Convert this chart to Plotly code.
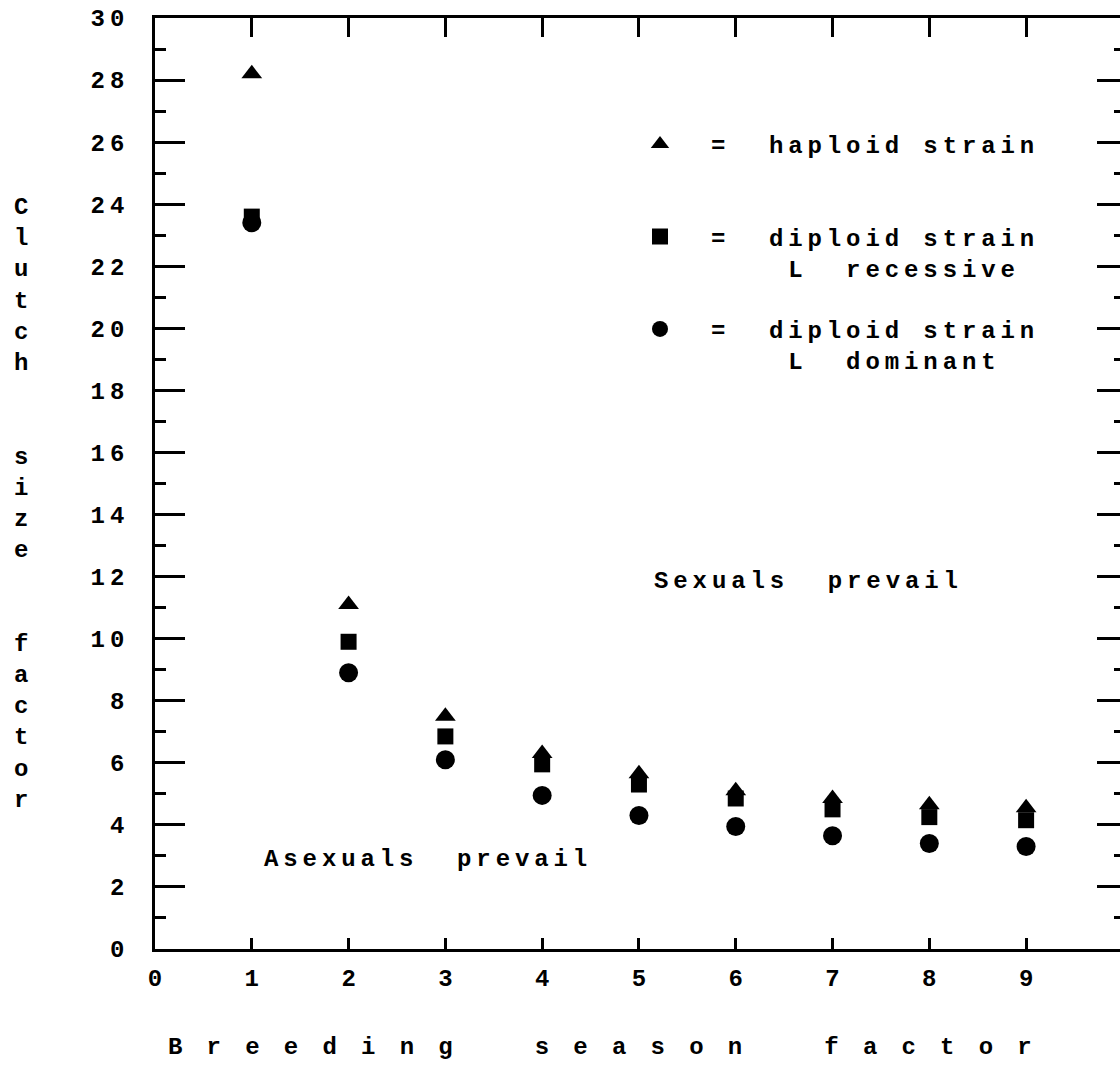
import plotly.graph_objects as go

# ---------------- data ----------------
season = [1, 2, 3, 4, 5, 6, 7, 8, 9]
haploid = [28.2, 11.1, 7.5, 6.3, 5.65, 5.1, 4.85, 4.65, 4.55]
diploid_recessive = [23.6, 9.9, 6.85, 5.95, 5.3, 4.85, 4.5, 4.25, 4.15]
diploid_dominant = [23.4, 8.9, 6.1, 4.95, 4.3, 3.95, 3.65, 3.4, 3.3]

x_tick_vals = [0, 1, 2, 3, 4, 5, 6, 7, 8, 9]
y_tick_vals = [0, 2, 4, 6, 8, 10, 12, 14, 16, 18, 20, 22, 24, 26, 28, 30]
top_tick_vals = [1, 2, 3, 4, 5, 6, 7, 8, 9, 10]

FONT = "Liberation Mono"
LS = 4.9
NB = "\u00a0"


def sp(t, ls=LS):
    return f'<span style="letter-spacing:{ls}px">{t}</span>'


name_hap = sp("=" + NB * 2 + "haploid strain") + "<br>" + NB
name_rec = sp("=" + NB * 2 + "diploid strain") + "<br>" + sp(NB * 4 + "L" + NB * 2 + "recessive")
name_dom = sp("=" + NB * 2 + "diploid strain") + "<br>" + sp(NB * 4 + "L" + NB * 2 + "dominant")

fig = go.Figure()
# haploid series is drawn on the twin (top/right) axes, which share identical ranges
fig.add_trace(go.Scatter(x=season, y=haploid, mode="markers", name=name_hap, legendgroup="a",
                         xaxis="x2", yaxis="y2",
                         marker=dict(symbol="triangle-up", size=18, color="black")))
fig.add_trace(go.Scatter(x=season, y=diploid_recessive, mode="markers", name=name_rec, legendgroup="b",
                         marker=dict(symbol="square", size=16, color="black")))
fig.add_trace(go.Scatter(x=season, y=diploid_dominant, mode="markers", name=name_dom, legendgroup="c",
                         marker=dict(symbol="circle", size=19, color="black")))

XR = [0, 9.97]
YR = [0, 30]

fig.update_layout(
    width=1120, height=1068,
    margin=dict(l=155, r=0, t=18, b=119),
    paper_bgcolor="white", plot_bgcolor="white",
    font=dict(family=FONT, size=24, color="black", weight="bold"),
    showlegend=True,
    legend=dict(x=(609 - 155) / 965, y=(949 - 122) / 931, xanchor="left", yanchor="top",
                bgcolor="rgba(0,0,0,0)", itemwidth=92, valign="top",
                traceorder="grouped", tracegroupgap=27,
                font=dict(family=FONT, size=24, color="black", weight="bold")),
    xaxis=dict(range=XR, showgrid=False, zeroline=False, showline=True, linecolor="black", linewidth=3,
               ticks="inside", ticklen=11, tickwidth=2.5, tickcolor="black",
               tickvals=x_tick_vals, ticktext=[str(v) for v in x_tick_vals],
               ticklabelstandoff=5),
    xaxis2=dict(range=XR, overlaying="x", side="top", anchor="y2", showgrid=False, zeroline=False,
                showline=True, linecolor="black", linewidth=3,
                ticks="inside", ticklen=19, tickwidth=2.5, tickcolor="black",
                tickvals=top_tick_vals, showticklabels=False),
    yaxis=dict(range=YR, showgrid=False, zeroline=False, showline=True, linecolor="black", linewidth=3,
               ticks="inside", ticklen=30, tickwidth=2.5, tickcolor="black",
               tickvals=y_tick_vals, ticktext=[sp(str(v)) for v in y_tick_vals],
               ticklabelstandoff=18,
               minor=dict(ticks="inside", ticklen=11, tickwidth=2.5, tickcolor="black", dtick=1, showgrid=False)),
    yaxis2=dict(range=YR, overlaying="y", side="right", anchor="x2", showgrid=False, zeroline=False,
                showline=False,
                ticks="inside", ticklen=23, tickwidth=2.5, tickcolor="black",
                tickvals=y_tick_vals, showticklabels=False,
                minor=dict(ticks="inside", ticklen=6, tickwidth=2.5, tickcolor="black", dtick=1, showgrid=False)),
)

# in-plot labels
fig.add_annotation(x=(652 - 155) / 96.8, y=(949 - 582) / 31.03, xref="x", yref="y",
                   text=sp("Sexuals" + NB * 2 + "prevail"), showarrow=False, xanchor="left", yanchor="middle")
fig.add_annotation(x=(262 - 155) / 96.8, y=(949 - 860) / 31.03, xref="x", yref="y",
                   text=sp("Asexuals" + NB * 2 + "prevail"), showarrow=False, xanchor="left", yanchor="middle")

# y title (stacked letters)
ylines = list("Clutch") + [NB, NB] + list("size") + [NB, NB] + list("factor")
fig.add_annotation(x=(21 - 155) / 965, y=(949 - 504) / 931, xref="paper", yref="paper",
                   text="<br>".join(ylines), showarrow=False, xanchor="center", yanchor="middle",
                   align="center")

# x title
xt = (NB * 4).join([" ".join(list(w)).replace(" ", NB) for w in ["Breeding", "season", "factor"]])
fig.add_annotation(x=(602 - 155) / 965, y=(949 - 1047) / 931, xref="paper", yref="paper",
                   text=sp(xt), showarrow=False, xanchor="center", yanchor="middle")

fig.write_html("out.html")
